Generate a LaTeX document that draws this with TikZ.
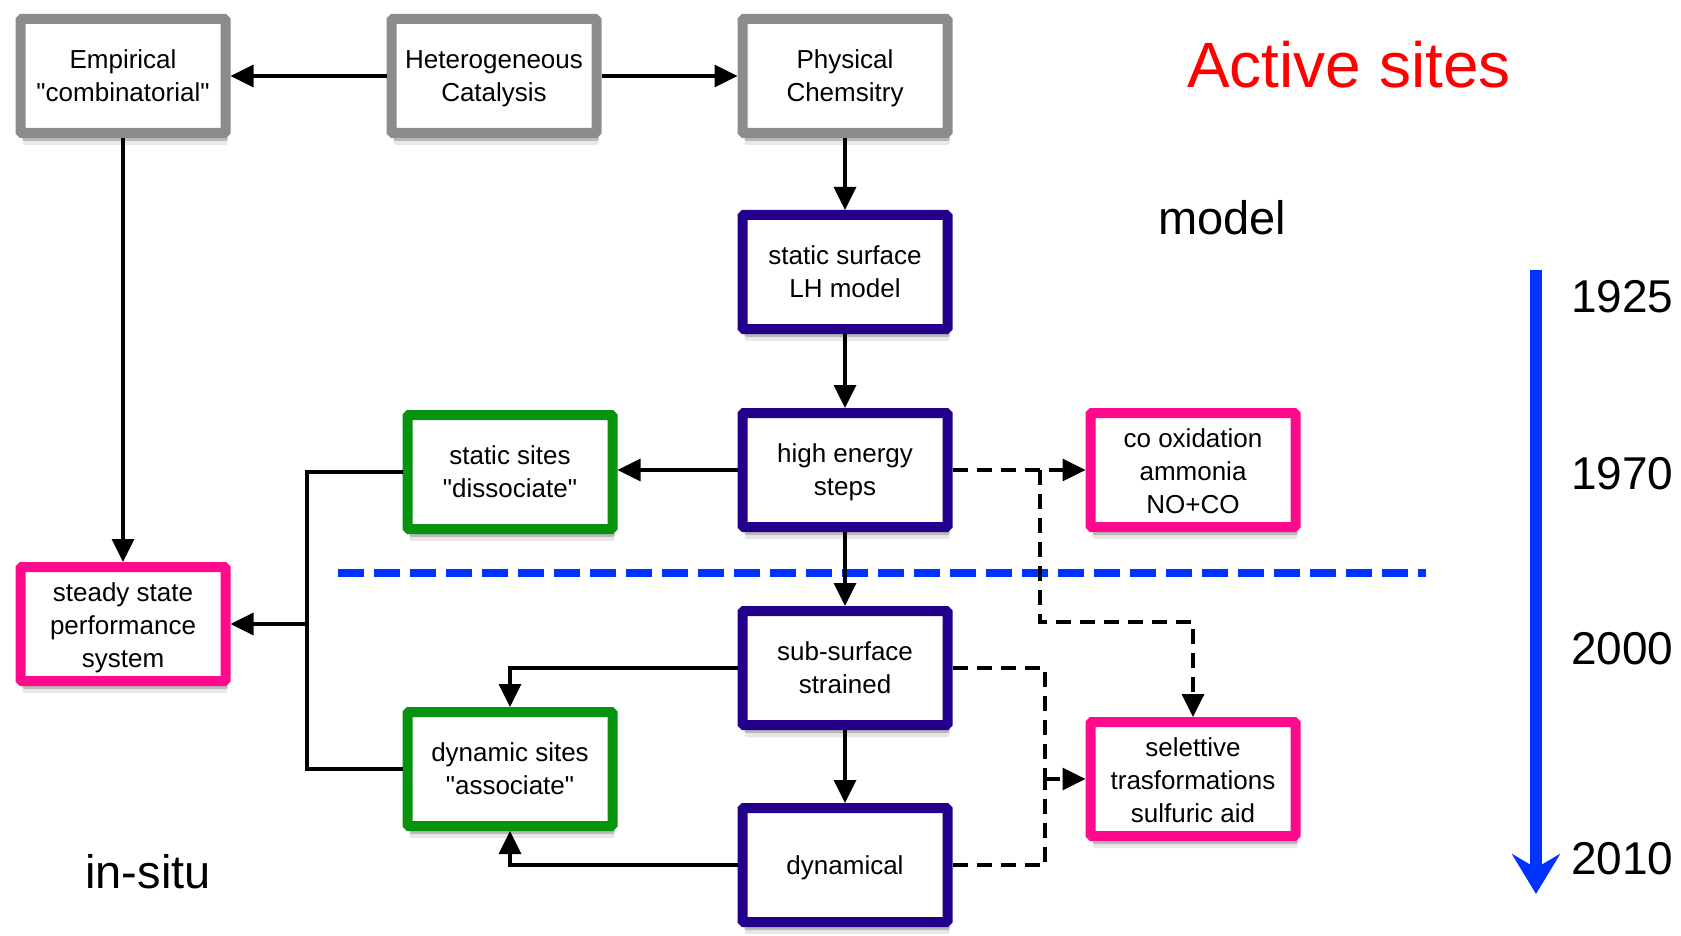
\documentclass[tikz,border=0pt]{standalone}
\usepackage{fontspec}
\setmainfont{Liberation Sans}
\usetikzlibrary{arrows.meta,shadows,calc}
\definecolor{grayb}{HTML}{8C8C8C}
\definecolor{navy}{HTML}{22008C}
\definecolor{grn}{HTML}{07930F}
\definecolor{mag}{HTML}{FF0A8C}
\definecolor{blu}{HTML}{0033FF}
\newcommand{\qq}{\textquotedbl}
% #1: baseline of first line above box centre; #2: lines
\newcommand{\bx}[2]{\raisebox{#1}[0pt][0pt]{\parbox[t]{200pt}{\centering #2}}}
\begin{document}
\begin{tikzpicture}[x=1pt,y=-1pt,
  box/.style={draw, line width=10pt, fill=white, minimum width=205pt, minimum height=114pt,
    inner sep=0pt, rounded corners=1.5pt, font=\fontsize{26}{33}\selectfont,
    drop shadow={shadow xshift=2pt, shadow yshift=-12pt, opacity=0.18},
    drop shadow={shadow xshift=2pt, shadow yshift=-8pt, opacity=0.45}},
  graybox/.style={box, draw=grayb},
  navybox/.style={box, draw=navy},
  greenbox/.style={box, draw=grn},
  magbox/.style={box, draw=mag},
  wire/.style={line width=3.5pt, black},
  conn/.style={wire, -{Triangle[length=23pt,width=22pt]}},
  dwire/.style={wire, dash pattern=on 15pt off 9pt},
  dconn/.style={dwire, -{Triangle[length=23pt,width=22pt]}},
  big/.style={font=\fontsize{47}{50}\selectfont, anchor=base},
  year/.style={font=\fontsize{46}{50}\selectfont, anchor=base east},
]
\useasboundingbox (0,0) rectangle (1681,936);

% boxes
\node[graybox] (emp) at (123,76) {\bx{7.4pt}{Empirical\\\qq combinatorial\qq}};
\node[graybox] (het) at (494,76) {\bx{7.4pt}{Heterogeneous\\Catalysis}};
\node[graybox] (phys) at (845,76) {\bx{7.4pt}{Physical\\Chemsitry}};
\node[navybox] (ssurf) at (845,272) {\bx{7.4pt}{static surface\\LH model}};
\node[navybox] (hes) at (845,470) {\bx{7.4pt}{high energy\\steps}};
\node[magbox] (coox) at (1193,470) {\bx{23pt}{co oxidation\\ammonia\\NO+CO}};
\node[greenbox] (ssites) at (510,472) {\bx{7.4pt}{static sites\\\qq dissociate\qq}};
\node[magbox] (steady) at (123,624) {\bx{23pt}{steady state\\performance\\system}};
\node[navybox] (sub) at (845,668) {\bx{7.4pt}{sub-surface\\strained}};
\node[greenbox] (dsites) at (510,769) {\bx{7.4pt}{dynamic sites\\\qq associate\qq}};
\node[navybox] (dyn) at (845,865) {\bx{-9pt}{dynamical}};
\node[magbox] (sel) at (1193,779) {\bx{23pt}{selettive\\trasformations\\sulfuric aid}};

% blue dashed separator
\coordinate (bl1) at (338,573);
\coordinate (bl2) at (1426,573);
\draw[blu, line width=8pt, dash pattern=on 26pt off 10pt] (bl1) -- (bl2);

% solid connectors
\draw[conn] (het.west) -- (emp.east);
\draw[conn] (het.east) -- (phys.west);
\draw[conn] (phys.south) -- (ssurf.north);
\draw[conn] (ssurf.south) -- (hes.north);
\draw[conn] (hes.south) -- (sub.north);
\draw[conn] (sub.south) -- (dyn.north);
\draw[conn] (emp.south) -- (steady.north);
\draw[conn] (hes.west) -- (hes.west -| ssites.east);
\coordinate (tr) at (307,624);
\draw[wire] (ssites.west) -- (ssites.west -| tr) -- (dsites.west -| tr) -- (dsites.west);
\draw[conn] (tr) -- (steady.east);
\draw[conn] (sub.west) -| (dsites.north);
\draw[conn] (dyn.west) -| (dsites.south);

% dashed connectors
\coordinate (d1) at (1040,622);
\draw[dconn] (hes.east) -- (coox.west);
\draw[dconn] (hes.east -| d1) -- (d1) -| (sel.north);
\coordinate (d2) at (1045,779);
\draw[dwire] (sub.east) -| (d2);
\draw[dwire] (dyn.east) -| (d2);
\draw[dconn] (d2) -- (sel.west);

% timeline
\coordinate (t1) at (1536,270);
\coordinate (t2) at (1536,894);
\draw[blu, line width=12pt, -{Stealth[length=40pt,width=48pt,inset=14pt]}] (t1) -- (t2);
\node[year] (y1) at (1677,312) {1925};
\node[year] (y2) at (1677,489) {1970};
\node[year] (y3) at (1677,664) {2000};
\node[year] (y4) at (1677,874) {2010};

% titles
\node[font=\fontsize{64}{70}\selectfont, text=red, anchor=base] (title) at (1349,88) {Active sites};
\node[big] (model) at (1222,234) {model};
\node[big] (insitu) at (148,888) {in-situ};
\end{tikzpicture}
\end{document}
